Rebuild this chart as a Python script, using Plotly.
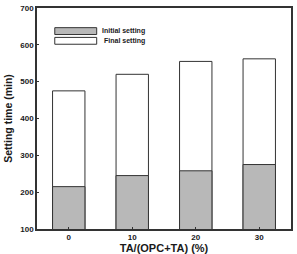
import plotly.graph_objects as go

categories = ["0", "10", "20", "30"]
initial_setting = [215, 245, 258, 275]
final_setting = [475, 520, 555, 562]
y_ticks = [100, 200, 300, 400, 500, 600, 700]

font_family = "Liberation Sans, Arial, sans-serif"
line_col = "#333333"
text_col = "#1a1a1a"

fig = go.Figure()
fig.add_trace(go.Bar(
    x=categories, y=final_setting, name="Final setting",
    marker=dict(color="white", line=dict(color=line_col, width=1)),
    width=0.51, showlegend=False,
))
fig.add_trace(go.Bar(
    x=categories, y=initial_setting, name="Initial setting",
    marker=dict(color="#b8b8b8", line=dict(color=line_col, width=1)),
    width=0.51, showlegend=False,
))

# custom legend
fig.add_shape(type="rect", xref="paper", yref="paper", x0=0.07, x1=0.235, y0=0.88, y1=0.911,
              fillcolor="#b8b8b8", line=dict(color=line_col, width=1))
fig.add_shape(type="rect", xref="paper", yref="paper", x0=0.07, x1=0.235, y0=0.836, y1=0.867,
              fillcolor="white", line=dict(color=line_col, width=1))
fig.add_annotation(xref="paper", yref="paper", x=0.435, y=0.896, text="Initial setting",
                   showarrow=False, xanchor="right", yanchor="middle",
                   font=dict(family=font_family, size=7, color=text_col, weight="bold"))
fig.add_annotation(xref="paper", yref="paper", x=0.435, y=0.851, text="Final setting",
                   showarrow=False, xanchor="right", yanchor="middle",
                   font=dict(family=font_family, size=7, color=text_col, weight="bold"))

fig.update_layout(
    width=297, height=254,
    margin=dict(l=37, r=4, t=6, b=23),
    barmode="overlay",
    plot_bgcolor="white", paper_bgcolor="white",
    font=dict(family=font_family, size=8, color=text_col, weight="bold"),
    xaxis=dict(
        range=[-0.5, 3.5], showline=True, linecolor=line_col, linewidth=1.5, mirror=True,
        ticks="inside", ticklen=2, tickcolor=line_col,
        tickfont=dict(size=8, weight="bold"),
        title=dict(text="TA/(OPC+TA) (%)", font=dict(size=11, weight="bold"), standoff=0),
    ),
    yaxis=dict(
        range=[100, 700], tickvals=y_ticks, showline=True, linecolor=line_col, linewidth=1.5, mirror=True,
        ticks="inside", ticklen=2, tickcolor=line_col, showgrid=False, zeroline=False,
        tickfont=dict(size=8, weight="bold"),
        title=dict(text="Setting time (min)", font=dict(size=10.5, weight="bold"), standoff=6),
    ),
)

fig.write_html("out.html")
